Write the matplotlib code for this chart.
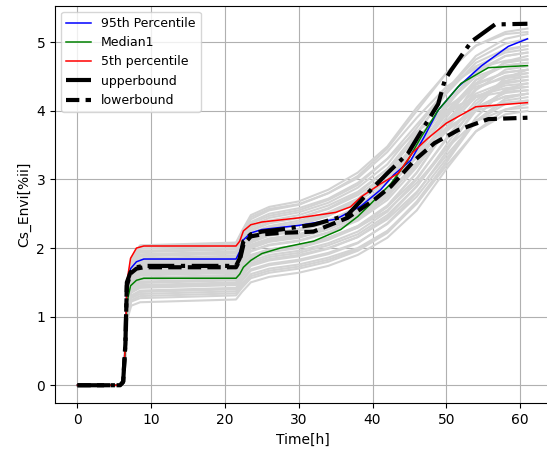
import matplotlib
matplotlib.use("Agg")
import matplotlib.pyplot as plt

# shared time grid of the gray simulation runs
t_runs = [0, 5.8, 6.2, 6.5, 6.8, 7.3, 8.5, 21.5, 22.3, 23.5, 26, 30, 34, 38, 42, 46, 50, 54, 58, 61]

runs = [
    [0, 0, 0.06, 0.60, 1.42, 1.86, 2.04, 2.08, 2.25, 2.48, 2.60, 2.68, 2.85, 3.10, 3.48, 4.05, 4.55, 4.95, 5.15, 5.20],
    [0, 0, 0.05, 0.55, 1.41, 1.84, 2.02, 2.06, 2.22, 2.45, 2.57, 2.64, 2.80, 3.02, 3.40, 3.90, 4.35, 4.62, 4.73, 4.75],
    [0, 0, 0.05, 0.55, 1.40, 1.82, 1.99, 2.03, 2.18, 2.38, 2.50, 2.58, 2.72, 2.95, 3.30, 3.70, 4.00, 4.20, 4.28, 4.30],
    [0, 0, 0.05, 0.55, 1.39, 1.80, 1.96, 2.00, 2.18, 2.42, 2.55, 2.63, 2.80, 3.05, 3.45, 4.00, 4.55, 4.95, 5.12, 5.15],
    [0, 0, 0.05, 0.60, 1.38, 1.78, 1.94, 1.98, 2.15, 2.36, 2.47, 2.55, 2.70, 2.92, 3.30, 3.80, 4.30, 4.65, 4.85, 4.90],
    [0, 0, 0.05, 0.50, 1.36, 1.76, 1.91, 1.95, 2.10, 2.30, 2.40, 2.48, 2.62, 2.82, 3.15, 3.60, 4.05, 4.35, 4.48, 4.50],
    [0, 0, 0.05, 0.50, 1.35, 1.75, 1.89, 1.93, 2.08, 2.27, 2.37, 2.44, 2.57, 2.77, 3.08, 3.50, 3.95, 4.22, 4.33, 4.35],
    [0, 0, 0.05, 0.55, 1.35, 1.74, 1.88, 1.92, 2.10, 2.32, 2.44, 2.52, 2.66, 2.88, 3.22, 3.75, 4.30, 4.75, 4.98, 5.05],
    [0, 0, 0.05, 0.50, 1.33, 1.72, 1.85, 1.89, 2.02, 2.20, 2.30, 2.37, 2.50, 2.70, 3.00, 3.35, 3.75, 4.00, 4.12, 4.15],
    [0, 0, 0.05, 0.55, 1.32, 1.71, 1.83, 1.87, 2.04, 2.25, 2.36, 2.44, 2.58, 2.80, 3.15, 3.68, 4.25, 4.70, 4.90, 4.95],
    [0, 0, 0.05, 0.55, 1.32, 1.70, 1.82, 1.86, 2.02, 2.22, 2.32, 2.40, 2.52, 2.72, 3.05, 3.55, 4.10, 4.50, 4.66, 4.70],
    [0, 0, 0.05, 0.50, 1.31, 1.69, 1.80, 1.84, 1.99, 2.18, 2.28, 2.35, 2.47, 2.67, 2.98, 3.45, 4.00, 4.40, 4.56, 4.60],
    [0, 0, 0.05, 0.50, 1.30, 1.68, 1.79, 1.83, 1.98, 2.18, 2.28, 2.35, 2.48, 2.68, 3.00, 3.50, 4.10, 4.55, 4.80, 4.85],
    [0, 0, 0.05, 0.50, 1.29, 1.66, 1.77, 1.81, 1.95, 2.12, 2.21, 2.27, 2.38, 2.55, 2.82, 3.22, 3.70, 4.05, 4.21, 4.25],
    [0, 0, 0.05, 0.50, 1.28, 1.65, 1.76, 1.80, 1.95, 2.12, 2.22, 2.28, 2.40, 2.58, 2.88, 3.32, 3.85, 4.20, 4.37, 4.40],
    [0, 0, 0.05, 0.55, 1.27, 1.63, 1.74, 1.78, 1.94, 2.14, 2.25, 2.33, 2.47, 2.70, 3.08, 3.65, 4.30, 4.80, 5.05, 5.12],
    [0, 0, 0.05, 0.50, 1.27, 1.62, 1.73, 1.77, 1.92, 2.10, 2.20, 2.27, 2.40, 2.60, 2.95, 3.48, 4.10, 4.58, 4.80, 4.85],
    [0, 0, 0.05, 0.50, 1.25, 1.60, 1.71, 1.75, 1.90, 2.08, 2.18, 2.25, 2.37, 2.56, 2.88, 3.36, 3.95, 4.38, 4.56, 4.60],
    [0, 0, 0.05, 0.50, 1.24, 1.59, 1.69, 1.73, 1.87, 2.05, 2.14, 2.20, 2.32, 2.50, 2.80, 3.25, 3.82, 4.25, 4.42, 4.45],
    [0, 0, 0.05, 0.45, 1.23, 1.58, 1.68, 1.72, 1.86, 2.03, 2.12, 2.18, 2.30, 2.48, 2.78, 3.20, 3.72, 4.05, 4.21, 4.25],
    [0, 0, 0.05, 0.50, 1.22, 1.56, 1.66, 1.70, 1.85, 2.03, 2.13, 2.20, 2.32, 2.52, 2.85, 3.35, 3.98, 4.45, 4.70, 4.75],
    [0, 0, 0.05, 0.45, 1.21, 1.55, 1.65, 1.69, 1.83, 2.00, 2.09, 2.15, 2.27, 2.45, 2.76, 3.24, 3.85, 4.32, 4.51, 4.55],
    [0, 0, 0.05, 0.50, 1.20, 1.53, 1.63, 1.67, 1.82, 2.00, 2.10, 2.17, 2.30, 2.50, 2.85, 3.40, 4.05, 4.60, 4.88, 4.95],
    [0, 0, 0.05, 0.45, 1.19, 1.51, 1.61, 1.65, 1.79, 1.96, 2.05, 2.11, 2.23, 2.42, 2.74, 3.25, 3.90, 4.45, 4.66, 4.70],
    [0, 0, 0.05, 0.45, 1.18, 1.50, 1.60, 1.64, 1.78, 1.95, 2.04, 2.10, 2.22, 2.40, 2.70, 3.18, 3.75, 4.20, 4.40, 4.45],
    [0, 0, 0.05, 0.45, 1.16, 1.48, 1.57, 1.61, 1.74, 1.90, 1.98, 2.04, 2.15, 2.30, 2.55, 2.95, 3.45, 3.85, 4.02, 4.05],
    [0, 0, 0.05, 0.45, 1.15, 1.47, 1.56, 1.60, 1.73, 1.89, 1.98, 2.04, 2.15, 2.32, 2.60, 3.02, 3.58, 4.05, 4.26, 4.30],
    [0, 0, 0.05, 0.45, 1.14, 1.45, 1.54, 1.58, 1.72, 1.88, 1.97, 2.03, 2.14, 2.32, 2.62, 3.10, 3.72, 4.30, 4.60, 4.65],
    [0, 0, 0.05, 0.45, 1.12, 1.42, 1.51, 1.55, 1.68, 1.85, 1.94, 2.00, 2.12, 2.30, 2.60, 3.10, 3.75, 4.40, 4.72, 4.80],
    [0, 0, 0.05, 0.45, 1.11, 1.40, 1.49, 1.53, 1.65, 1.81, 1.90, 1.96, 2.07, 2.24, 2.53, 3.00, 3.60, 4.15, 4.44, 4.50],
    [0, 0, 0.05, 0.40, 1.10, 1.38, 1.46, 1.50, 1.62, 1.78, 1.87, 1.93, 2.04, 2.20, 2.48, 2.90, 3.45, 4.00, 4.30, 4.35],
    [0, 0, 0.05, 0.40, 1.09, 1.36, 1.44, 1.48, 1.60, 1.76, 1.84, 1.90, 2.00, 2.16, 2.42, 2.82, 3.35, 3.85, 4.10, 4.15],
    [0, 0, 0.05, 0.40, 1.08, 1.35, 1.42, 1.46, 1.58, 1.74, 1.82, 1.88, 1.99, 2.16, 2.45, 2.90, 3.50, 4.10, 4.48, 4.55],
    [0, 0, 0.04, 0.40, 1.06, 1.31, 1.38, 1.42, 1.54, 1.69, 1.77, 1.83, 1.93, 2.08, 2.35, 2.75, 3.30, 3.85, 4.15, 4.20],
    [0, 0, 0.04, 0.40, 1.05, 1.29, 1.36, 1.40, 1.52, 1.67, 1.75, 1.81, 1.91, 2.07, 2.36, 2.80, 3.40, 4.05, 4.48, 4.60],
    [0, 0, 0.04, 0.40, 1.04, 1.27, 1.33, 1.37, 1.48, 1.62, 1.70, 1.76, 1.86, 2.00, 2.25, 2.65, 3.20, 3.70, 3.95, 4.00],
    [0, 0, 0.04, 0.40, 1.02, 1.24, 1.30, 1.34, 1.45, 1.59, 1.67, 1.73, 1.83, 1.98, 2.24, 2.68, 3.25, 3.85, 4.18, 4.25],
    [0, 0, 0.04, 0.40, 1.00, 1.22, 1.27, 1.31, 1.42, 1.56, 1.64, 1.70, 1.80, 1.96, 2.22, 2.65, 3.25, 3.90, 4.32, 4.40],
    [0, 0, 0.04, 0.35, 0.98, 1.16, 1.21, 1.25, 1.36, 1.50, 1.58, 1.64, 1.74, 1.90, 2.15, 2.55, 3.15, 3.70, 4.02, 4.10],
]

t_p95 = [0, 5.8, 6.2, 6.5, 6.7, 7.2, 8.0, 9.0, 21.5, 22.0, 22.5, 23.5, 25, 30, 35, 38.4, 41.1, 42.9, 45.2, 47, 48.9, 51.6, 54.8, 58.4, 61]
p95 = [0, 0, 0.05, 0.6, 1.45, 1.7, 1.8, 1.84, 1.84, 1.95, 2.12, 2.22, 2.27, 2.33, 2.42, 2.61, 2.85, 3.07, 3.28, 3.62, 4.01, 4.35, 4.66, 4.94, 5.05]

t_med = [0, 5.8, 6.2, 6.5, 6.7, 7.2, 8.0, 9.0, 21.5, 22.0, 22.5, 23.5, 25, 27.5, 32, 35.7, 38, 39.8, 42.5, 44.8, 46.6, 48.9, 52, 55.7, 61]
median = [0, 0, 0.05, 0.55, 1.2, 1.45, 1.53, 1.56, 1.56, 1.62, 1.72, 1.82, 1.92, 2.0, 2.1, 2.27, 2.46, 2.65, 2.94, 3.28, 3.62, 4.01, 4.4, 4.63, 4.66]

t_p5 = [0, 5.8, 6.2, 6.5, 6.7, 7.2, 8.0, 9.0, 21.5, 22.0, 22.5, 23.5, 25, 30, 35, 37, 38.5, 41, 43.5, 45.5, 47.5, 50, 54, 61]
p5 = [0, 0, 0.05, 0.6, 1.5, 1.85, 2.0, 2.03, 2.03, 2.1, 2.25, 2.34, 2.38, 2.44, 2.52, 2.6, 2.75, 2.93, 3.09, 3.4, 3.6, 3.82, 4.06, 4.12]

t_up = [0, 5.8, 6.2, 6.5, 6.7, 7.2, 8.0, 9.0, 21.5, 22.0, 22.5, 23.5, 25, 27.5, 32, 36.6, 39.8, 42, 44.8, 47, 48.9, 49.8, 50.7, 53.4, 56.6, 61]
upper = [0, 0, 0.05, 0.6, 1.5, 1.65, 1.72, 1.74, 1.74, 1.85, 2.1, 2.2, 2.24, 2.27, 2.34, 2.48, 2.85, 3.09, 3.38, 3.77, 4.1, 4.45, 4.6, 5.01, 5.26, 5.27]

t_low = [0, 5.8, 6.2, 6.5, 6.7, 7.2, 8.0, 9.0, 21.5, 22.0, 22.5, 23.5, 25, 27.5, 32, 36.6, 40.2, 42.5, 45.7, 48.4, 51.6, 55.7, 61]
lower = [0, 0, 0.05, 0.6, 1.45, 1.63, 1.7, 1.72, 1.72, 1.82, 2.05, 2.17, 2.2, 2.22, 2.24, 2.44, 2.7, 2.9, 3.28, 3.53, 3.72, 3.88, 3.9]

fig = plt.figure(figsize=(5.47, 4.55), dpi=100)
ax = fig.add_axes([0.1004, 0.1136, 0.905, 0.8739])

for run in runs:
    ax.plot(t_runs, run, color="lightgray", lw=1.5)

ax.plot(t_p95, p95, color="b", lw=1.1, label="95th Percentile")
ax.plot(t_med, median, color="g", lw=1.1, label="Median1")
ax.plot(t_p5, p5, color="r", lw=1.1, label="5th percentile")
ax.plot(t_up, upper, "k-.", lw=3, label="upperbound")
ax.plot(t_low, lower, color="k", ls=(0, (3.2, 1.5)), lw=3, label="lowerbound")

ax.set_xlim(-3.05, 64.05)
ax.grid(True)
ax.set_xlabel("Time[h]")
ax.set_ylabel("Cs_Envi[%ii]")
ax.legend(loc="upper left", fontsize=9)

fig.savefig("out.png", dpi=100)
